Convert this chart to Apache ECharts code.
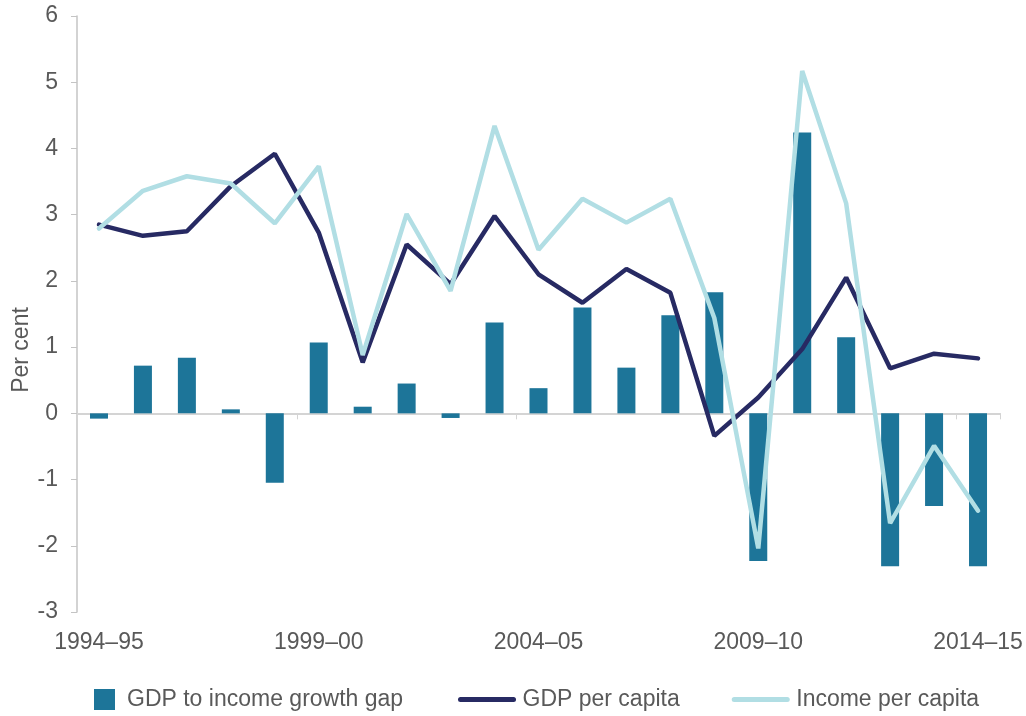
<!DOCTYPE html>
<html>
<head>
<meta charset="utf-8">
<title>GDP and income per capita growth</title>
<script src="https://cdn.jsdelivr.net/npm/echarts@6/dist/echarts.min.js"></script>
<style>
  html, body { margin: 0; padding: 0; background: #fff; }
  #chart { width: 1026px; height: 716px; }
</style>
</head>
<body>
<div id="chart"></div>
<script>
// financial years on the x axis
var years = ['1994–95', '1995–96', '1996–97', '1997–98', '1998–99', '1999–00', '2000–01',
  '2001–02', '2002–03', '2003–04', '2004–05', '2005–06', '2006–07', '2007–08',
  '2008–09', '2009–10', '2010–11', '2011–12', '2012–13', '2013–14', '2014–15'];

// per cent
var growthGap = [-0.08, 0.72, 0.84, 0.06, -1.05, 1.07, 0.10, 0.45, -0.07, 1.37, 0.38,
  1.60, 0.69, 1.48, 1.83, -2.23, 4.24, 1.15, -2.31, -1.40, -2.31];
var gdpPerCapita = [2.85, 2.68, 2.75, 3.43, 3.92, 2.73, 0.77, 2.55, 1.95, 2.98, 2.10,
  1.67, 2.18, 1.82, -0.34, 0.24, 0.97, 2.05, 0.68, 0.90, 0.83];
var incomePerCapita = [2.79, 3.36, 3.58, 3.47, 2.87, 3.73, 0.88, 3.01, 1.85, 4.34, 2.47,
  3.24, 2.88, 3.24, 1.44, -2.04, 5.17, 3.17, -1.66, -0.49, -1.47];

var font = '"Liberation Sans", Arial, sans-serif';
var grey = '#595959';

var myChart = echarts.init(document.getElementById('chart'));

var option = {
  animation: false,
  textStyle: { fontFamily: font },
  grid: {
    left: 77, right: 26, top: 16, bottom: 104,
    containLabel: false,
    outerBoundsMode: 'none'
  },
  legend: [
    {
      // bar item with a square swatch
      data: [{ name: 'GDP to income growth gap', icon: 'rect' }],
      left: 89,
      top: 683,
      itemWidth: 21,
      itemHeight: 21,
      textStyle: { color: grey, fontSize: 23, fontFamily: font, padding: [0, 0, 0, 7] }
    },
    {
      // line items; a tiny height keeps the legend dot hidden inside the line
      data: ['GDP per capita', 'Income per capita'],
      left: 453,
      top: 683,
      itemWidth: 53,
      itemHeight: 5,
      itemGap: 52,
      lineStyle: { width: 5, cap: 'round' },
      textStyle: { color: grey, fontSize: 23, fontFamily: font, padding: [0, 0, 0, 4] }
    }
  ],
  xAxis: [
    {
      // labels along the bottom of the plot
      type: 'category',
      data: years,
      position: 'bottom',
      axisLine: { show: false, onZero: false },
      axisTick: { show: false },
      axisLabel: {
        interval: 4,
        color: grey,
        fontSize: 23,
        fontFamily: font,
        margin: 19
      }
    },
    {
      // the zero line with its ticks
      type: 'category',
      data: years,
      position: 'bottom',
      axisLine: { show: true, onZero: true, lineStyle: { color: '#d4d4d4', width: 2 } },
      axisTick: { show: true, interval: 4, length: 6, lineStyle: { color: '#d4d4d4' } },
      axisLabel: { show: false }
    }
  ],
  yAxis: {
    type: 'value',
    min: -3,
    max: 6,
    interval: 1,
    name: 'Per cent',
    nameLocation: 'middle',
    nameGap: 44,
    nameMoveOverlap: false,
    nameTextStyle: { color: grey, fontSize: 23, fontFamily: font, padding: [0, 72, 0, 0] },
    axisLine: { show: true, lineStyle: { color: '#c4c4c4', width: 1.5 } },
    axisTick: { show: true, length: 6, lineStyle: { color: '#c4c4c4' } },
    splitLine: { show: false },
    axisLabel: { color: grey, fontSize: 23, fontFamily: font, margin: 19 }
  },
  series: [
    {
      name: 'GDP to income growth gap',
      type: 'bar',
      xAxisIndex: 0,
      barWidth: 18,
      color: '#1d7599',
      data: growthGap
    },
    {
      name: 'GDP per capita',
      type: 'line',
      xAxisIndex: 0,
      color: '#272a63',
      showSymbol: false,
      symbol: 'none',
      lineStyle: { width: 4.5, color: '#272a63', cap: 'round' },
      data: gdpPerCapita
    },
    {
      name: 'Income per capita',
      type: 'line',
      xAxisIndex: 0,
      color: '#b1dee4',
      showSymbol: false,
      symbol: 'none',
      lineStyle: { width: 4.5, color: '#b1dee4', cap: 'round' },
      data: incomePerCapita
    }
  ]
};

myChart.setOption(option);
</script>
</body>
</html>
